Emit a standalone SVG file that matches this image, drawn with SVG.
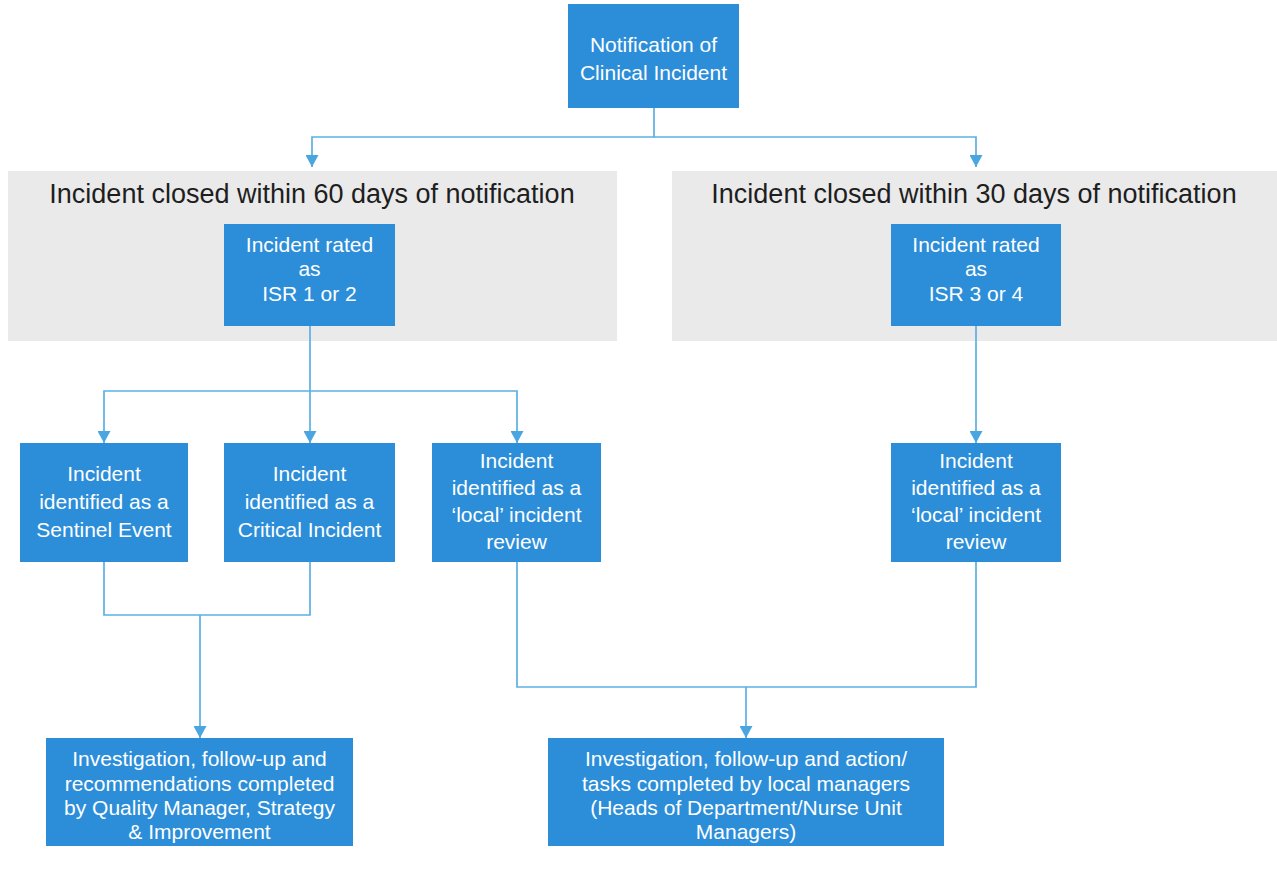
<svg xmlns="http://www.w3.org/2000/svg" width="1277" height="871" viewBox="0 0 1277 871">
<defs>
<style>
.band{fill:#eaeaea;}
.title{font-family:"Liberation Sans",Arial,sans-serif;font-size:27px;fill:#1e1e1e;text-anchor:middle;}
.box{fill:#2c8ed9;}
.lbl{font-family:"Liberation Sans",Arial,sans-serif;font-size:21px;fill:#ffffff;text-anchor:middle;}
.conn{fill:none;stroke:#5cb0e3;stroke-width:1.7;}
</style>
<marker id="arr" viewBox="0 0 12 13" refX="12" refY="6.5" markerWidth="13" markerHeight="13" markerUnits="userSpaceOnUse" orient="auto">
<path d="M0,0 L12,6.5 L0,13 Z" fill="#4aa6e0"/>
</marker>
</defs>
<rect width="1277" height="871" fill="#ffffff"/>

<g id="band-60">
<rect class="band" x="8" y="171" width="609" height="170"/>
<text class="title" x="312" y="203">Incident closed within 60 days of notification</text>
</g>
<g id="band-30">
<rect class="band" x="672" y="171" width="605" height="170"/>
<text class="title" x="974" y="203">Incident closed within 30 days of notification</text>
</g>

<g id="connectors">
<path class="conn" d="M654,108 V137 H312 V167" marker-end="url(#arr)"/>
<path class="conn" d="M654,137 H976 V167" marker-end="url(#arr)"/>
<path class="conn" d="M310,326 V391 H104 V443" marker-end="url(#arr)"/>
<path class="conn" d="M310,391 V443" marker-end="url(#arr)"/>
<path class="conn" d="M310,391 H517 V443" marker-end="url(#arr)"/>
<path class="conn" d="M976,326 V443" marker-end="url(#arr)"/>
<path class="conn" d="M104,562 V615 H310 V562"/>
<path class="conn" d="M200,615 V738" marker-end="url(#arr)"/>
<path class="conn" d="M517,562 V687 H976 V562"/>
<path class="conn" d="M746,687 V738" marker-end="url(#arr)"/>
</g>

<g id="notification">
<rect class="box" x="568" y="4" width="171" height="104"/>
<text class="lbl" x="653.5" y="52">Notification of</text>
<text class="lbl" x="653.5" y="80">Clinical Incident</text>
</g>

<g id="isr-1-2">
<rect class="box" x="224" y="224" width="171" height="102"/>
<text class="lbl" x="309.5" y="252">Incident rated</text>
<text class="lbl" x="309.5" y="276">as</text>
<text class="lbl" x="309.5" y="301">ISR 1 or 2</text>
</g>

<g id="isr-3-4">
<rect class="box" x="891" y="224" width="170" height="102"/>
<text class="lbl" x="976" y="252">Incident rated</text>
<text class="lbl" x="976" y="276">as</text>
<text class="lbl" x="976" y="301">ISR 3 or 4</text>
</g>

<g id="sentinel">
<rect class="box" x="20" y="443" width="168" height="119"/>
<text class="lbl" x="104" y="481">Incident</text>
<text class="lbl" x="104" y="509">identified as a</text>
<text class="lbl" x="104" y="537">Sentinel Event</text>
</g>

<g id="critical">
<rect class="box" x="224" y="443" width="171" height="119"/>
<text class="lbl" x="309.5" y="481">Incident</text>
<text class="lbl" x="309.5" y="509">identified as a</text>
<text class="lbl" x="309.5" y="537">Critical Incident</text>
</g>

<g id="local-left">
<rect class="box" x="432" y="443" width="169" height="119"/>
<text class="lbl" x="516.5" y="468">Incident</text>
<text class="lbl" x="516.5" y="495">identified as a</text>
<text class="lbl" x="516.5" y="522">‘local’ incident</text>
<text class="lbl" x="516.5" y="549">review</text>
</g>

<g id="local-right">
<rect class="box" x="891" y="443" width="170" height="119"/>
<text class="lbl" x="976" y="468">Incident</text>
<text class="lbl" x="976" y="495">identified as a</text>
<text class="lbl" x="976" y="522">‘local’ incident</text>
<text class="lbl" x="976" y="549">review</text>
</g>

<g id="quality-manager">
<rect class="box" x="46" y="738" width="307" height="108"/>
<text class="lbl" x="199.5" y="766">Investigation, follow-up and</text>
<text class="lbl" x="199.5" y="791">recommendations completed</text>
<text class="lbl" x="199.5" y="815">by Quality Manager, Strategy</text>
<text class="lbl" x="199.5" y="839">&amp; Improvement</text>
</g>

<g id="local-managers">
<rect class="box" x="548" y="738" width="396" height="108"/>
<text class="lbl" x="746" y="766">Investigation, follow-up and action/</text>
<text class="lbl" x="746" y="791">tasks completed by local managers</text>
<text class="lbl" x="746" y="815">(Heads of Department/Nurse Unit</text>
<text class="lbl" x="746" y="839">Managers)</text>
</g>
</svg>
